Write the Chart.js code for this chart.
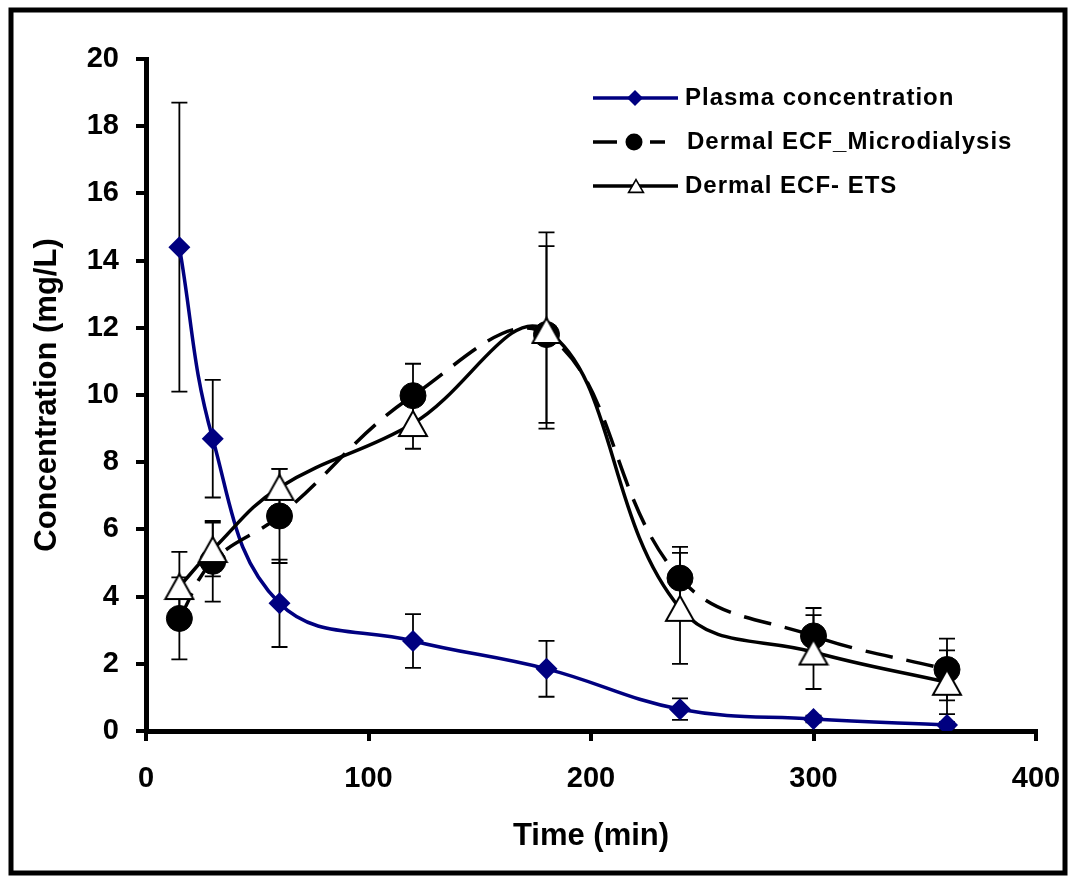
<!DOCTYPE html>
<html>
<head>
<meta charset="utf-8">
<script src="https://cdn.jsdelivr.net/npm/chart.js@4.4.1/dist/chart.umd.min.js"></script>
<style>
  html, body { margin: 0; padding: 0; background: #fff; }
  #wrap { width: 1071px; height: 876px; }
</style>
</head>
<body>
<div id="wrap"><canvas id="chart" width="1071" height="876"></canvas></div>
<script>
// =====================
// Data
// =====================

const times = [15, 30, 60, 120, 180, 240, 300, 360];

const plasma   = [14.4, 8.7, 3.8, 2.68, 1.85, 0.65, 0.36, 0.18];
const plasmaSd = [4.3, 1.75, 1.3, 0.8, 0.83, 0.32, 0.1, 0.08];

const micro    = [3.35, 5.05, 6.4, 9.98, 11.8, 4.55, 2.83, 1.83];
const microSd  = [1.22, 1.2, 1.4, 0.95, 2.63, 0.93, 0.83, 0.92];

const ets      = [4.3, 5.4, 7.25, 9.15, 11.92, 3.65, 2.35, 1.45];
const etsSd    = [1.03, 0.8, 0.55, 0.75, 2.92, 1.65, 1.1, 0.95];

const seriesNames = ['Plasma concentration', 'Dermal ECF_Microdialysis', 'Dermal ECF- ETS'];

const xTicks = [0, 100, 200, 300, 400];
const yTicks = [0, 2, 4, 6, 8, 10, 12, 14, 16, 18, 20];

const FONT = '"Liberation Sans", Arial, sans-serif';
const NAVY = '#000080';

// open triangle marker, centred on its box like the spreadsheet marker
function triangleMarker(w, h, lw) {
  const c = document.createElement('canvas');
  c.width = w + lw * 2;
  c.height = h + lw * 2;
  const g = c.getContext('2d');
  g.beginPath();
  g.moveTo(c.width / 2, lw);
  g.lineTo(c.width - lw, c.height - lw);
  g.lineTo(lw, c.height - lw);
  g.closePath();
  g.fillStyle = '#fff';
  g.fill();
  g.lineWidth = lw;
  g.strokeStyle = '#000';
  g.stroke();
  return c;
}

const triBig = triangleMarker(28, 25, 2);
const triSmall = triangleMarker(15, 13, 1.6);

const toPoints = vals => times.map((t, i) => ({ x: t, y: vals[i] }));

// =====================
// Plugins
// =====================

const errorBars = {
  id: 'errorBars',
  beforeDatasetsDraw(chart) {
    const { ctx, scales: { y } } = chart;
    ctx.save();
    ctx.strokeStyle = '#000';
    ctx.lineWidth = 1.8;
    chart.data.datasets.forEach((ds, i) => {
      const meta = chart.getDatasetMeta(i);
      meta.data.forEach((pt, j) => {
        const v = ds.data[j].y, e = ds.errors[j];
        const top = y.getPixelForValue(v + e);
        const bot = y.getPixelForValue(v - e);
        ctx.beginPath();
        ctx.moveTo(pt.x, top); ctx.lineTo(pt.x, bot);
        ctx.moveTo(pt.x - 8, top); ctx.lineTo(pt.x + 8, top);
        ctx.moveTo(pt.x - 8, bot); ctx.lineTo(pt.x + 8, bot);
        ctx.stroke();
      });
    });
    ctx.restore();
  }
};

const frameAndLegend = {
  id: 'frameAndLegend',
  beforeDraw(chart) {
    const ctx = chart.ctx;
    ctx.save();
    ctx.fillStyle = '#fff';
    ctx.fillRect(0, 0, chart.width, chart.height);
    ctx.restore();
  },
  afterDraw(chart) {
    const ctx = chart.ctx;
    ctx.save();

    // outer frame
    ctx.strokeStyle = '#000';
    ctx.lineWidth = 5;
    ctx.strokeRect(11, 10, 1054, 863);

    // legend
    const rows = [98, 142, 186];
    ctx.lineWidth = 3.5;

    // plasma
    ctx.strokeStyle = NAVY;
    ctx.beginPath(); ctx.moveTo(593, rows[0]); ctx.lineTo(678, rows[0]); ctx.stroke();
    ctx.fillStyle = NAVY;
    ctx.beginPath();
    ctx.moveTo(627, rows[0]); ctx.lineTo(635, rows[0] - 8);
    ctx.lineTo(643, rows[0]); ctx.lineTo(635, rows[0] + 8);
    ctx.closePath(); ctx.fill();

    // microdialysis
    ctx.strokeStyle = '#000';
    ctx.setLineDash([24, 33]);
    ctx.beginPath(); ctx.moveTo(593, rows[1]); ctx.lineTo(665, rows[1]); ctx.stroke();
    ctx.setLineDash([]);
    ctx.fillStyle = '#000';
    ctx.beginPath(); ctx.arc(634, rows[1], 8.5, 0, Math.PI * 2); ctx.fill();

    // ETS
    ctx.beginPath(); ctx.moveTo(593, rows[2]); ctx.lineTo(678, rows[2]); ctx.stroke();
    ctx.drawImage(triSmall, 636 - triSmall.width / 2, rows[2] - triSmall.height / 2);

    ctx.fillStyle = '#000';
    ctx.font = 'bold 24px ' + FONT;
    ctx.textBaseline = 'middle';
    ctx.textAlign = 'left';
    if ('letterSpacing' in ctx) ctx.letterSpacing = '1px';
    ctx.fillText(seriesNames[0], 685, rows[0]);
    ctx.fillText(seriesNames[1], 687, rows[1]);
    ctx.fillText(seriesNames[2], 685, rows[2]);
    ctx.restore();
  }
};

// =====================
// Chart
// =====================

Chart.defaults.color = '#000';
Chart.defaults.font.family = FONT;
Chart.defaults.font.weight = 'bold';

new Chart(document.getElementById('chart'), {
  type: 'line',
  data: {
    datasets: [
      {
        label: seriesNames[0],
        data: toPoints(plasma),
        errors: plasmaSd,
        borderColor: NAVY,
        borderWidth: 3.5,
        tension: 0.4,
        pointStyle: 'rectRot',
        pointRadius: 11,
        pointBorderWidth: 0,
        pointBackgroundColor: NAVY,
        order: 2
      },
      {
        label: seriesNames[1],
        data: toPoints(micro),
        errors: microSd,
        borderColor: '#000',
        borderWidth: 3.5,
        borderDash: [28, 14],
        tension: 0.4,
        pointStyle: 'circle',
        pointRadius: 13,
        pointBorderWidth: 1,
        pointBorderColor: '#000',
        pointBackgroundColor: '#000',
        order: 1
      },
      {
        label: seriesNames[2],
        data: toPoints(ets),
        errors: etsSd,
        borderColor: '#000',
        borderWidth: 3.5,
        tension: 0.4,
        pointStyle: triBig,
        pointRadius: 14,
        order: 0
      }
    ]
  },
  options: {
    responsive: false,
    animation: false,
    layout: { padding: { top: 59, right: 35, left: 0, bottom: 0 } },
    plugins: {
      legend: { display: false },
      tooltip: { enabled: false }
    },
    scales: {
      x: {
        type: 'linear',
        min: 0,
        max: 400,
        afterBuildTicks: s => { s.ticks = xTicks.map(v => ({ value: v })); },
        afterFit: s => { s.height = 145; s.paddingLeft = 0; s.paddingRight = 0; },
        ticks: { font: { size: 29, weight: 'bold' }, padding: 21, color: '#000' },
        grid: { drawOnChartArea: false, drawTicks: true, tickLength: 10, color: '#000', lineWidth: 4 },
        border: { display: true, color: '#000', width: 5 },
        title: {
          display: true,
          text: 'Time (min)',
          font: { size: 31, weight: 'bold' },
          padding: { top: 0, bottom: 21 },
          color: '#000'
        }
      },
      y: {
        type: 'linear',
        min: 0,
        max: 20,
        afterBuildTicks: s => { s.ticks = yTicks.map(v => ({ value: v })); },
        afterFit: s => { s.width = 146; s.paddingTop = 0; s.paddingBottom = 0; },
        ticks: { font: { size: 29, weight: 'bold' }, padding: 17, color: '#000' },
        grid: { drawOnChartArea: false, drawTicks: true, tickLength: 10, color: '#000', lineWidth: 4 },
        border: { display: true, color: '#000', width: 5 },
        title: {
          display: true,
          text: 'Concentration (mg/L)',
          font: { size: 31, weight: 'bold' },
          padding: { top: 29, bottom: 0 },
          color: '#000'
        }
      }
    }
  },
  plugins: [errorBars, frameAndLegend]
});
</script>
</body>
</html>
